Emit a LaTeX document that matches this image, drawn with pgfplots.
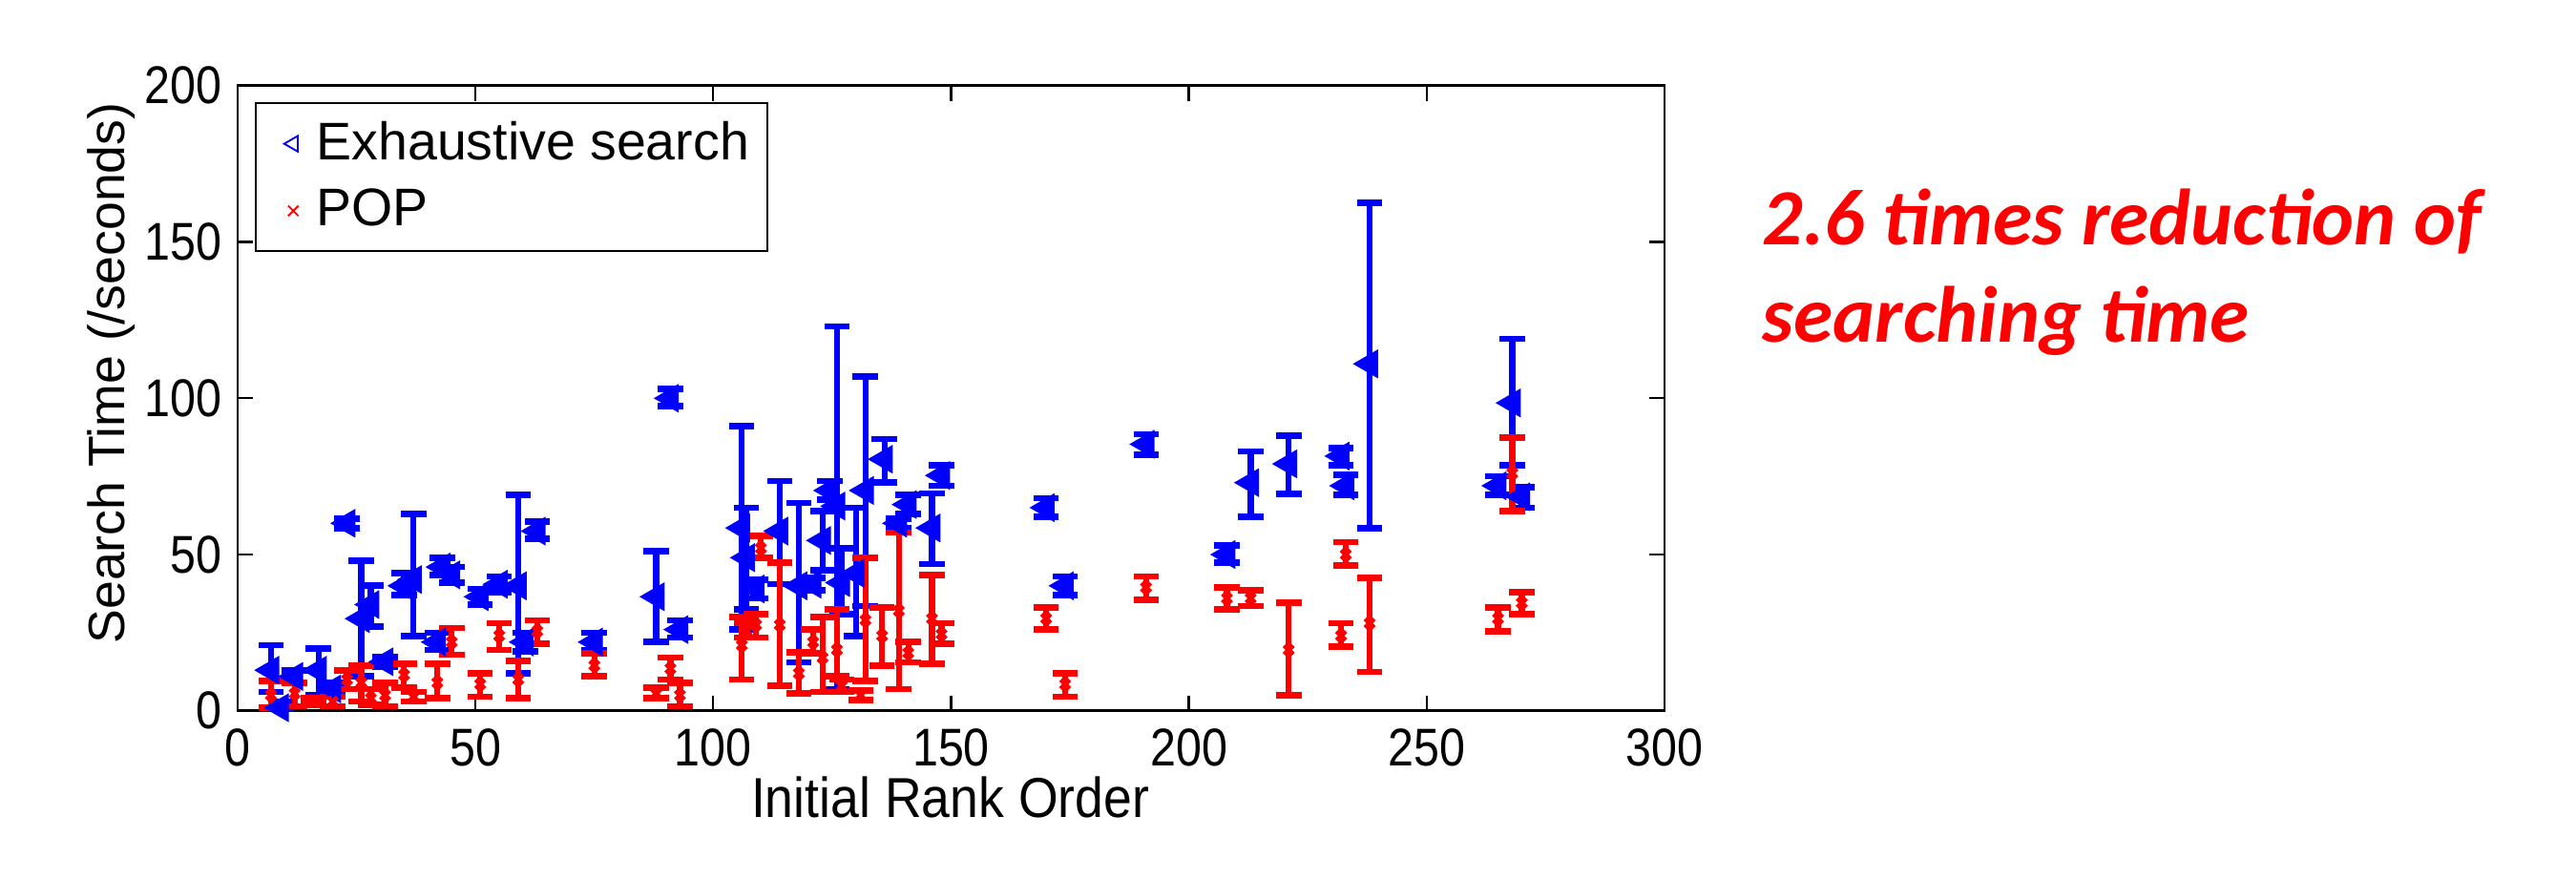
\documentclass[border=0pt]{standalone}
\usepackage{fontspec}
\setmainfont{Liberation Sans}
\newfontfamily\calib{Carlito}
\usepackage{pgfplots}
\usepackage{pgfplotstable}
\pgfplotsset{compat=1.18}
\definecolor{mblue}{RGB}{0,0,255}
\definecolor{mred}{RGB}{255,0,0}

% x = initial rank order, y = mean search time, lo/hi = error bar ends
\pgfplotstableread{
x y lo hi
7 13 6 21
9 1 0 3
12 11 9 13
17 13 5 20
20 7 5 9
23 60 58.5 61.5
26 29.5 11 48
28 34 27 40
31 15.7 14.2 17.2
35 40 37 44
37 42 24 63
42 22 19.5 25
43 46 43.5 49
45 43.5 41 46
51 36.5 34 39
55 40.5 38 43
59 40 12 69
60.5 22 19 25
63 57.5 55 60.5
75 22 19.5 25
88 36.5 22 51
91 100 97.5 103
93 26 23.5 29
106 58.5 26 91
107 49 32.5 65
109 39 36 42
114 57.5 40.5 73.5
118 40 15.5 66.5
121 40.5 38.5 42.5
123 54.5 45 64
124.5 70.5 67.5 73.5
126 65.5 7 123
127 41 31 52
130 44 24 65
132 70.5 33.5 107
136 80.5 73 87
139 60 58.5 61.5
141 66 63 69
146 58.5 47 69.5
148 75.3 72 78.5
170 65 62 68
174 40 37 43
191 85.3 82 88.5
208 50 47.5 53
213 73 62 83
221 79 69.5 88
232 81.5 78.5 84
233 72 69 75.5
238 111 58.5 162.5
265 72 69 75
268 98.5 78.5 119
270 68.5 65 71.5
}\exhaustive

\pgfplotstableread{
x y lo hi
7 5 1 9.6
12 5.5 1.5 9
16 3 2 4
20 3 1.5 4.5
23 10 7 13
26 9 3 14.5
28 4 2 7
31 5 1.5 9
35 11.5 7.5 15
37 4.5 3 6
42 9 4 15
45 22 18 26.5
51 8.5 4.5 12
55 24 19.5 28
59 10 4 16
63 25.5 21.5 29
75 14.5 11 18.5
88 5.5 4 7.5
91 13.5 10 17
93 5 1.5 9
106 21 10 30
107 25.5 23.5 28
109 27.5 23.5 31
110 52 49 56
114 27.5 8 47.5
118 12 5.5 18.7
121 22 18.5 26
123 17 6 30
126 19.5 11 32.5
127 8 6 10
131 5 3.5 6.5
132 29 9.5 49
135.5 24 14.5 33
139 32 7 57
141 18.5 15.5 22
146 29.5 15 43.5
148 24.5 21.5 28
170 29.5 26 33
174 8.5 4.5 12
191 39.5 35.5 43
208 36 32.5 39.5
213 36 33.5 38.5
221 19.5 5 34.5
232 24 20.5 28
233 50 46.5 54
238 28 12.5 42.5
265 29.5 25.5 33
268 76 64 87.5
270 34.5 31 38
}\pop

\begin{document}
\begin{tikzpicture}
\path[use as bounding box] (-1.845,-1.299) rectangle (18.155,5.519);
\begin{axis}[at={(0,0)},anchor=south west,scale only axis,
  width=11.078cm,height=4.854cm,
  xmin=0,xmax=300,ymin=0,ymax=200,
  xtick={0,50,...,300},ytick={0,50,...,200},
  tick align=inside,major tick length=0.12cm,
  axis line style={line width=0.6pt},
  tick style={line width=0.5pt,black},
  font=\fontsize{11.3}{13}\selectfont,
  tick label style={font=\fontsize{10.2}{12}\selectfont,yscale=1.15},
  /pgf/number format/assume math mode=true,
  xlabel={Initial Rank Order},
  ylabel={Search Time (/seconds)},
  every axis x label/.style={at={(axis description cs:0.4994,-0.139)},anchor=center,yscale=1.1},
  every axis y label/.style={at={(axis description cs:-0.0883,0.54)},rotate=90,anchor=center},
  legend style={at={(0.012,0.974)},anchor=north west,draw=black,line width=0.5pt,
    inner xsep=2pt,inner ysep=2pt,row sep=1pt,font=\fontsize{11.7}{14}\selectfont},
  legend image code/.code={\path[draw=none] (0cm,0cm) -- (0.33cm,0cm);
    \path[draw=none,#1] plot[only marks] coordinates {(0.22cm,0cm)};},
  legend cell align=left]
\addplot[mblue,only marks,mark=triangle*,mark size=3.3pt,mark options={rotate=90},
  forget plot,
  error bars/.cd,y dir=both,y explicit,
  error bar style={line width=1.3pt},
  error mark options={mblue,line width=1.4pt,mark size=2.8pt,rotate=90}]
  table[x=x,y=y,y error plus expr=\thisrow{hi}-\thisrow{y},y error minus expr=\thisrow{y}-\thisrow{lo}] {\exhaustive};
\addplot[mred,only marks,mark=x,mark size=1.4pt,mark options={line width=1pt},
  forget plot,
  error bars/.cd,y dir=both,y explicit,
  error bar style={line width=1.3pt},
  error mark options={mred,line width=1.4pt,mark size=2.8pt,rotate=90}]
  table[x=x,y=y,y error plus expr=\thisrow{hi}-\thisrow{y},y error minus expr=\thisrow{y}-\thisrow{lo}] {\pop};
\addlegendimage{mark=triangle,mark size=2pt,mblue,mark options={rotate=90,line width=0.4pt,draw=mblue}}
\addlegendentry{Exhaustive search}
\addlegendimage{mark=x,mark size=1.6pt,mred,mark options={line width=0.4pt,draw=mred}}
\addlegendentry{POP}
\end{axis}
\node[anchor=base west,text=mred,font=\calib\bfseries\itshape\fontsize{17.6}{21}\selectfont]
  at (11.716,3.616) {2.6 times reduction of};
\node[anchor=base west,text=mred,font=\calib\bfseries\itshape\fontsize{17.6}{21}\selectfont]
  at (11.716,2.866) {searching time};
\end{tikzpicture}
\end{document}
